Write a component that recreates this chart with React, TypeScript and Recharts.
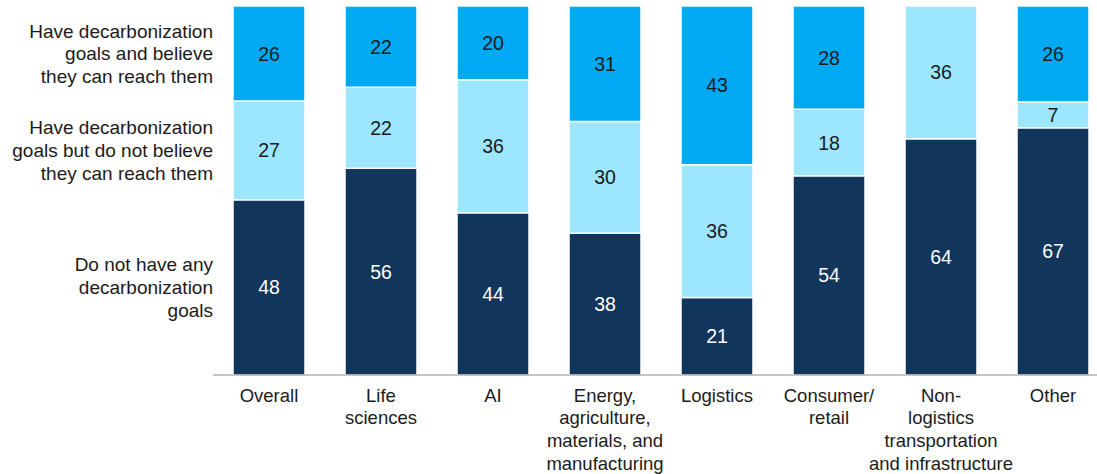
import { BarChart, Bar, XAxis, YAxis, LabelList } from 'recharts';

const categories = [
  'Overall',
  'Life sciences',
  'AI',
  'Energy, agriculture, materials, and manufacturing',
  'Logistics',
  'Consumer/retail',
  'Non-logistics transportation and infrastructure',
  'Other',
];

const tickLines: { [key: string]: string[] } = {
  'Overall': ['Overall'],
  'Life sciences': ['Life', 'sciences'],
  'AI': ['AI'],
  'Energy, agriculture, materials, and manufacturing': ['Energy,', 'agriculture,', 'materials, and', 'manufacturing'],
  'Logistics': ['Logistics'],
  'Consumer/retail': ['Consumer/', 'retail'],
  'Non-logistics transportation and infrastructure': ['Non-', 'logistics', 'transportation', 'and infrastructure'],
  'Other': ['Other'],
};

const noGoals = [48, 56, 44, 38, 21, 54, 64, 67];
const goalsNotReach = [27, 22, 36, 30, 36, 18, 36, 7];
const goalsReach = [26, 22, 20, 31, 43, 28, 0, 26];

const legendNoGoals = ['Do not have any', 'decarbonization', 'goals'];
const legendNotReach = ['Have decarbonization', 'goals but do not believe', 'they can reach them'];
const legendReach = ['Have decarbonization', 'goals and believe', 'they can reach them'];

const chartData = categories.map((name, i) => ({
  name,
  noGoals: noGoals[i],
  goalsNotReach: goalsNotReach[i],
  goalsReach: goalsReach[i],
}));

const FONT = '"Liberation Sans", Arial, sans-serif';
const TEXT = '#1b1b1b';
const LINE_H = 22.7;

const segmentLabel = (fill: string, legend: string[]) => (props: any) => {
  const { x, y, width, height, value, index } = props;
  const cx = Number(x) + Number(width) / 2;
  const cy = Number(y) + Number(height) / 2;
  return (
    <g>
      {value > 0 && (
        <text x={cx} y={cy} dy="0.36em" textAnchor="middle" fill={fill} fontSize={19.5} fontFamily={FONT}>
          {value}
        </text>
      )}
      {index === 0 && (
        <text x={Number(x) - 20} y={cy} textAnchor="end" fill={TEXT} fontSize={19} fontFamily={FONT}>
          {legend.map((line, j) => (
            <tspan key={j} x={Number(x) - 20} y={cy + (j - (legend.length - 1) / 2) * LINE_H} dy="0.36em">
              {line}
            </tspan>
          ))}
        </text>
      )}
    </g>
  );
};

const CategoryTick = (props: any) => {
  const { x, y, payload } = props;
  const lines = tickLines[payload.value] || [payload.value];
  return (
    <text x={x} y={y} textAnchor="middle" fill={TEXT} fontSize={18.5} fontFamily={FONT}>
      {lines.map((line, j) => (
        <tspan key={j} x={x} y={y + 12 + j * LINE_H} dy="0.36em">
          {line}
        </tspan>
      ))}
    </text>
  );
};

const App = () => {
  return (
    <div style={{ position: 'absolute', left: 0, top: 0, width: 1097, height: 474, overflow: 'hidden', background: '#fff' }}>
      <BarChart
        width={1120}
        height={474}
        data={chartData}
        stackOffset="expand"
        barCategoryGap={20}
        margin={{ top: 6, right: 11, left: 213, bottom: 0 }}
      >
        <XAxis
          dataKey="name"
          axisLine={{ stroke: '#8c8c8c', strokeWidth: 1 }}
          tickLine={false}
          tick={<CategoryTick />}
          interval={0}
          height={99}
        />
        <YAxis hide domain={[0, 1]} />
        <Bar dataKey="noGoals" stackId="a" fill="#12355b" stroke="#ffffff" strokeWidth={1.5} isAnimationActive={false}>
          <LabelList dataKey="noGoals" content={segmentLabel('#ffffff', legendNoGoals)} />
        </Bar>
        <Bar dataKey="goalsNotReach" stackId="a" fill="#9ce6ff" stroke="#ffffff" strokeWidth={1.5} isAnimationActive={false}>
          <LabelList dataKey="goalsNotReach" content={segmentLabel(TEXT, legendNotReach)} />
        </Bar>
        <Bar dataKey="goalsReach" stackId="a" fill="#00a9f4" stroke="#ffffff" strokeWidth={1.5} isAnimationActive={false}>
          <LabelList dataKey="goalsReach" content={segmentLabel(TEXT, legendReach)} />
        </Bar>
      </BarChart>
    </div>
  );
};

export default App;
